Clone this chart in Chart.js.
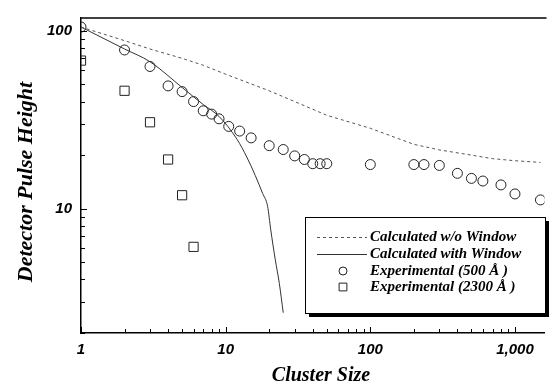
<!DOCTYPE html>
<html>
<head>
<meta charset="utf-8">
<script src="https://cdn.jsdelivr.net/npm/chart.js@4.4.0/dist/chart.umd.min.js"></script>
<style>
html, body { margin: 0; padding: 0; background: #fff; }
#wrap { width: 552px; height: 387px; }
</style>
</head>
<body>
<div id="wrap"><canvas id="chart1"></canvas></div>
<script>
// values
var calcNoWinX = [1, 2, 3, 5, 7, 10, 20, 30, 50, 100, 200, 300, 500, 700, 1000, 1500];
var calcNoWinY = [105, 88, 79, 70, 64, 57, 46, 40, 33.5, 28.3, 23, 21.4, 20, 19.1, 18.6, 18.2];

var calcWinX = [1, 2, 3, 5, 7, 9, 12, 14, 16, 18, 19.5, 20.5, 22, 23.5, 25];
var calcWinY = [105, 79, 67, 48, 38.5, 33, 24.5, 19.5, 15.4, 12.2, 10.3, 7.6, 5.2, 3.8, 2.6];

var exp500X = [1, 2, 3, 4, 5, 6, 7, 8, 9, 10.5, 12.5, 15, 20, 25, 30, 35, 40, 45, 50, 100, 200, 235, 300, 400, 500, 600, 800, 1000, 1500];
var exp500Y = [105, 78, 63, 49, 45.5, 40, 35.5, 34, 32, 29, 27.3, 25, 22.6, 21.5, 19.8, 18.9, 17.9, 17.9, 17.9, 17.7, 17.7, 17.7, 17.5, 15.8, 14.8, 14.3, 13.6, 12.1, 11.2];

var exp2300X = [1, 2, 3, 4, 5, 6];
var exp2300Y = [68, 46, 30.6, 18.9, 11.9, 6.1];

var xTicks = [1, 10, 100, 1000];
var yTicks = [10, 100];

var seriesLabels = ['Calculated w/o Window', 'Calculated with Window', 'Experimental (500 \u00C5 )', 'Experimental (2300 \u00C5 )'];
var xTitle = 'Cluster Size';
var yTitle = 'Detector Pulse Height';

function pts(xs, ys) {
	return xs.map(function (x, i) { return {x: x, y: ys[i]}; });
}

var serif = 'Liberation Serif';
var sans = 'Liberation Sans';

// minor ticks, top frame line, axis titles and the boxed legend
var extras = {
	id: 'extras',
	afterDraw: function (chart) {
		var ctx = chart.ctx;
		var a = chart.chartArea;
		var xs = chart.scales.x, ys = chart.scales.y;
		ctx.save();
		ctx.strokeStyle = '#000';
		ctx.lineWidth = 1.5;
		ctx.beginPath();
		ctx.moveTo(a.left, a.top);
		ctx.lineTo(a.right + 2, a.top);
		ctx.stroke();

		ctx.lineWidth = 1;
		ctx.beginPath();
		for (var d = 0; d < 4; d++) {
			for (var k = 1; k < 10; k++) {
				var v = k * Math.pow(10, d);
				if (v < xs.min || v > xs.max) continue;
				var px = Math.round(xs.getPixelForValue(v)) + 0.5;
				ctx.moveTo(px, a.bottom);
				ctx.lineTo(px, a.bottom - (k === 1 ? 6 : 4));
			}
		}
		for (var d2 = 0; d2 < 3; d2++) {
			for (var k2 = 1; k2 < 10; k2++) {
				var v2 = k2 * Math.pow(10, d2);
				if (v2 < ys.min || v2 > ys.max) continue;
				var py = Math.round(ys.getPixelForValue(v2)) + 0.5;
				ctx.moveTo(a.left, py);
				ctx.lineTo(a.left + (k2 === 1 ? 6 : 4), py);
			}
		}
		ctx.stroke();

		// axis titles
		ctx.fillStyle = '#000';
		ctx.textAlign = 'center';
		ctx.textBaseline = 'middle';
		ctx.font = 'italic bold 20px "' + serif + '"';
		ctx.fillText(xTitle, 321, 376);
		ctx.save();
		ctx.translate(26, 182);
		ctx.rotate(-Math.PI / 2);
		ctx.font = 'italic bold 22px "' + serif + '"';
		ctx.fillText(yTitle, 0, 0);
		ctx.restore();

		// legend box with heavy shadow
		var bx = 305, by = 217, bw = 240, bh = 96;
		ctx.fillStyle = '#000';
		ctx.fillRect(bx + 4, by + 4, bw, bh);
		ctx.fillStyle = '#fff';
		ctx.fillRect(bx, by, bw, bh);
		ctx.strokeStyle = '#000';
		ctx.lineWidth = 1;
		ctx.strokeRect(bx + 0.5, by + 0.5, bw, bh);

		var rows = [237, 254, 271, 287];
		ctx.font = 'italic bold 15px "' + serif + '"';
		ctx.textBaseline = 'middle';
		ctx.textAlign = 'left';
		chart.data.datasets.forEach(function (ds, i) {
			var y = rows[i];
			ctx.save();
			if (ds.showLine === false) {
				ctx.strokeStyle = ds.pointBorderColor;
				ctx.fillStyle = 'rgba(0,0,0,0)';
				ctx.lineWidth = 1;
				Chart.helpers.drawPoint(ctx, {pointStyle: ds.pointStyle, radius: ds.pointRadius - 1, rotation: 0, borderWidth: 1}, 343, y);
			} else {
				ctx.strokeStyle = ds.borderColor;
				ctx.lineWidth = 1;
				ctx.setLineDash(ds.borderDash || []);
				ctx.beginPath();
				ctx.moveTo(317, y + 0.5);
				ctx.lineTo(367, y + 0.5);
				ctx.stroke();
			}
			ctx.restore();
			ctx.fillStyle = '#000';
			ctx.fillText(ds.label, 370, y);
		});
		ctx.restore();
	}
};

var c1 = document.getElementById('chart1').getContext('2d');
var pulseChart = new Chart(c1, {
	type: 'line',
	data: {
		datasets: [{
			label: seriesLabels[0],
			data: pts(calcNoWinX, calcNoWinY),
			borderColor: '#555',
			borderWidth: 1,
			borderDash: [3, 3],
			pointRadius: 0,
			fill: false
		}, {
			label: seriesLabels[1],
			data: pts(calcWinX, calcWinY),
			borderColor: '#333',
			borderWidth: 1,
			cubicInterpolationMode: 'monotone',
			pointRadius: 0,
			fill: false
		}, {
			label: seriesLabels[2],
			data: pts(exp500X, exp500Y),
			showLine: false,
			pointStyle: 'circle',
			pointRadius: 5,
			pointBorderWidth: 1,
			pointBorderColor: '#222',
			pointBackgroundColor: 'rgba(0,0,0,0)'
		}, {
			label: seriesLabels[3],
			data: pts(exp2300X, exp2300Y),
			showLine: false,
			pointStyle: 'rect',
			pointRadius: 6.5,
			pointBorderWidth: 1,
			pointBorderColor: '#222',
			pointBackgroundColor: 'rgba(0,0,0,0)'
		}]
	},
	options: {
		responsive: true,
		maintainAspectRatio: false,
		animation: false,
		layout: { padding: { top: 13, right: 1, left: 0, bottom: 0 } },
		plugins: {
			legend: { display: false },
			tooltip: { enabled: false }
		},
		scales: {
			x: {
				type: 'logarithmic',
				min: 1,
				max: 1600,
				afterFit: function (s) { s.height = 54; },
				afterBuildTicks: function (s) { s.ticks = xTicks.map(function (v) { return {value: v}; }); },
				grid: { display: false, drawTicks: false },
				border: { display: true, color: '#000', width: 1.5 },
				ticks: {
					autoSkip: false,
					maxRotation: 0,
					padding: 8,
					color: '#000',
					font: { family: sans, size: 15, style: 'italic', weight: 'bold' },
					callback: function (v) { return Number(v).toLocaleString('en-US'); }
				}
			},
			y: {
				type: 'logarithmic',
				min: 2,
				max: 118,
				afterFit: function (s) { s.width = 81; },
				afterBuildTicks: function (s) { s.ticks = yTicks.map(function (v) { return {value: v}; }); },
				grid: { display: false, drawTicks: false },
				border: { display: true, color: '#000', width: 1.5 },
				ticks: {
					padding: 9,
					color: '#000',
					font: { family: sans, size: 15, style: 'italic', weight: 'bold' },
					callback: function (v) { return Number(v).toLocaleString('en-US'); }
				}
			}
		}
	},
	plugins: [extras]
});
</script>
</body>
</html>
